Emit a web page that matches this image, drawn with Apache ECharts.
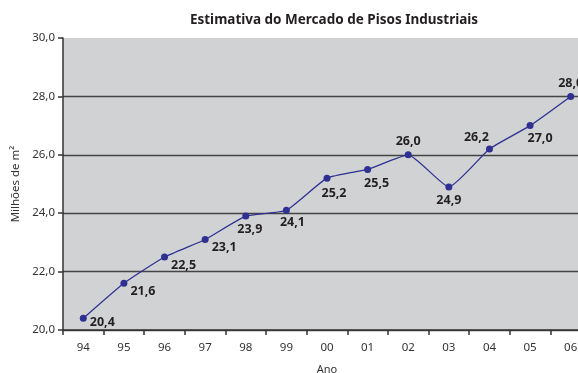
<!DOCTYPE html>
<html><head><meta charset="utf-8">
<script src="https://cdn.jsdelivr.net/npm/echarts@6/dist/echarts.min.js"></script>
<style>html,body{margin:0;padding:0;background:#fff}#c{width:578px;height:373px}</style>
</head><body><div id="c"></div>
<script>
var categories = ['94','95','96','97','98','99','00','01','02','03','04','05','06'];
var values = [20.4, 21.6, 22.5, 23.1, 23.9, 24.1, 25.2, 25.5, 26.0, 24.9, 26.2, 27.0, 28.0];
var yTicks = [20, 22, 24, 26, 28, 30];

// label placement (style only)
var labelPlacement = [
  {position:'right', offset:[-2,4]},
  {position:'right', offset:[-2,8]},
  {position:'right', offset:[-2,8]},
  {position:'right', offset:[-2,8]},
  {position:'bottom', offset:[4,-2]},
  {position:'bottom', offset:[6,-3]},
  {position:'bottom', offset:[7,0]},
  {position:'bottom', offset:[9,-1]},
  {position:'top', offset:[0,2]},
  {position:'bottom', offset:[0,-1]},
  {position:'top', offset:[-13,3]},
  {position:'bottom', offset:[10,-2]},
  {position:'top', offset:[0,2]}
];

var chart = echarts.init(document.getElementById('c'), null, {renderer:'canvas'});
var font = 'Noto Sans';
chart.setOption({
  animation:false,
  title:{text:'Estimativa do Mercado de Pisos Industriais', left:329, top:8, textAlign:'center',
    textStyle:{fontFamily:font, fontWeight:'bold', fontSize:13.5, color:'#231f20'}},
  grid:{left:63, width:528, top:38, height:292, show:true, backgroundColor:'#d1d2d4', borderWidth:0,
    containLabel:false, outerBoundsMode:'none'},
  xAxis:{type:'category', data:categories, boundaryGap:true,
    name:'Ano', nameLocation:'middle', nameGap:34,
    nameTextStyle:{fontFamily:font, fontSize:11, color:'#333'},
    axisLine:{lineStyle:{color:'#333', width:1.5}},
    axisTick:{show:true, alignWithLabel:false, length:5, lineStyle:{color:'#333', width:1.5}},
    axisLabel:{fontFamily:font, fontSize:11.5, color:'#333', margin:12},
    splitLine:{show:false}},
  yAxis:{type:'value', min:yTicks[0], max:yTicks[yTicks.length-1], interval:2,
    name:'Milhões de m²', nameLocation:'middle', nameGap:40, nameRotate:90,
    nameTextStyle:{fontFamily:font, fontSize:11.5, color:'#333'},
    axisLine:{show:true, lineStyle:{color:'#333', width:1.5}},
    axisTick:{show:true, length:5, lineStyle:{color:'#333', width:1.5}},
    axisLabel:{fontFamily:font, fontSize:11.5, color:'#333', margin:8,
      formatter:function(v){return v.toFixed(1).replace('.',',');}},
    splitLine:{show:true, lineStyle:{color:['#444','#444','#444','#444','#444','rgba(0,0,0,0)'], width:1.3}}},
  series:[{type:'line', smooth:0.15, data:values.map(function(v,i){
      return {value:v, label:labelPlacement[i]};
    }),
    symbol:'circle', symbolSize:7,
    lineStyle:{color:'#2e3192', width:1.3},
    itemStyle:{color:'#2e3192'},
    label:{show:true, fontFamily:font, fontWeight:'bold', fontSize:12.5, color:'#231f20',
      formatter:function(p){return p.value.toFixed(1).replace('.',',');}}
  }]
});
</script></body></html>
